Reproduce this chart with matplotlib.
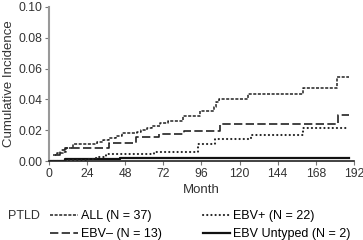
import matplotlib
matplotlib.use('Agg')
import matplotlib.pyplot as plt
from matplotlib.lines import Line2D

plt.rcParams['font.family'] = ['Liberation Sans', 'DejaVu Sans']

# step curves: month at which the level starts, cumulative incidence
all_t = [2.3, 5, 8.6, 10.8, 15, 30, 34, 38, 42, 46, 55.6, 58, 62, 65, 70, 75, 84.4, 95, 103.6, 105, 107, 125.5, 159.8, 181.6, 189]
all_v = [0.004, 0.005, 0.006, 0.0087, 0.0113, 0.0125, 0.0137, 0.0148, 0.0165, 0.018, 0.019, 0.020, 0.0215, 0.023, 0.0245, 0.026, 0.0295, 0.0326, 0.035, 0.0386, 0.0404, 0.0434, 0.0477, 0.0545, 0.0545]

neg_t = [3.6, 7, 10, 38, 54.6, 69, 84.8, 107.7, 181.7, 189]
neg_v = [0.004, 0.007, 0.0087, 0.0119, 0.0158, 0.0174, 0.0197, 0.0241, 0.0302, 0.0302]

pos_t = [0, 12, 23.5, 28, 31.7, 35.8, 66, 94, 104.6, 127.5, 159.8, 189]
pos_v = [0.0003, 0.0006, 0.001, 0.0018, 0.0028, 0.0046, 0.006, 0.0108, 0.0145, 0.0171, 0.0215, 0.0215]

unt_t = [0, 10, 45, 189]
unt_v = [0.0003, 0.001, 0.0017, 0.0017]

labels = ['ALL (N = 37)', 'EBV\u2013 (N = 13)', 'EBV+ (N = 22)', 'EBV Untyped (N = 2)']
xticks = [0, 24, 48, 72, 96, 120, 144, 168, 192]
yticks = [0.0, 0.02, 0.04, 0.06, 0.08, 0.10]

fig = plt.figure(figsize=(3.63, 2.40), dpi=100)
ax = fig.add_axes([0.135, 0.329, 0.84, 0.642])

ax.plot(unt_t, unt_v, drawstyle='steps-post', color='#111111', lw=1.6, ls='-')
ax.plot(pos_t, pos_v, drawstyle='steps-post', color='#222222', lw=1.5, ls=(0, (0.1, 1.9)), dash_capstyle='round')
ax.plot(neg_t, neg_v, drawstyle='steps-post', color='#222222', lw=1.2, ls=(0, (5, 2)))
ax.plot(all_t, all_v, drawstyle='steps-post', color='#222222', lw=1.1, ls=(0, (2, 1)))

ax.set_xlim(0, 192)
ax.set_ylim(0, 0.10)
ax.set_xticks(xticks)
ax.set_yticks(yticks)
ax.set_yticklabels(['%.2f' % y for y in yticks])
ax.spines['top'].set_visible(False)
ax.spines['right'].set_visible(False)
ax.spines['left'].set_color('#999999')
ax.spines['left'].set_linewidth(1.5)
ax.spines['bottom'].set_color('#222222')
ax.spines['bottom'].set_linewidth(1.2)
ax.tick_params(colors='#777777', labelcolor='#333333', labelsize=8.7, length=3, width=0.8, pad=2)
ax.set_xlabel('Month', fontsize=9.5, color='#333333', labelpad=3)
ax.set_ylabel('Cumulative Incidence', fontsize=9.5, color='#333333', labelpad=2)

handles = [
    Line2D([], [], color='#222222', lw=1.1, ls=(0, (2, 1))),
    Line2D([], [], color='#222222', lw=1.2, ls=(0, (5, 2))),
    Line2D([], [], color='#222222', lw=1.5, ls=(0, (0.1, 1.9)), dash_capstyle='round'),
    Line2D([], [], color='#111111', lw=1.6),
]
fig.legend(handles, labels, ncol=2, loc='upper left', bbox_to_anchor=(0.138, 0.125),
           frameon=False, fontsize=9, handlelength=2.2, handletextpad=0.25,
           columnspacing=3.3, labelspacing=0.5, borderaxespad=0, borderpad=0)
fig.text(0.022, 0.10, 'PTLD', fontsize=9, color='#333333', va='center')

fig.savefig('out.png', dpi=100)
